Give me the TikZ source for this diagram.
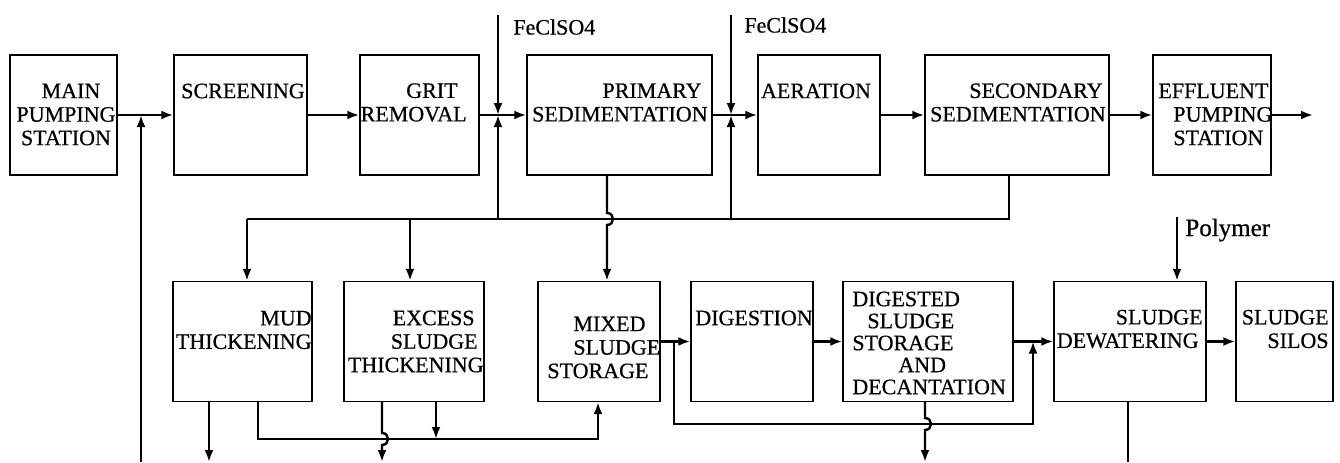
\documentclass[tikz,border=0pt]{standalone}
\usepackage{fontspec}
\setmainfont{Liberation Serif}[FakeBold=0.6]
\newfontfamily\plantfont{Liberation Serif}[FakeBold=0.6]
\usetikzlibrary{arrows.meta}

\begin{document}
\begin{tikzpicture}[x=0.5pt,y=-0.5pt,>={Latex[length=6pt,width=4.5pt]},
        box/.style={draw,line width=0.7pt,minimum height=60pt,inner sep=0pt},
        lbl/.style={inner sep=0pt,font=\plantfont\fontsize{11}{11.75}\selectfont},
        flow/.style={line width=1.2pt}]
        \useasboundingbox (0,0) rectangle (1340,462);
        % water line
        \node[box, minimum width=53.5pt]  (mps)  at (63.5,115)   {};
        \node[box, minimum width=66.5pt]  (scr)  at (240.5,115)  {};
        \node[box, minimum width=59.5pt]  (grit) at (419.5,115)  {};
        \node[box, minimum width=92.5pt]  (pri)  at (619.5,115)  {};
        \node[box, minimum width=61pt]    (aer)  at (819,115)    {};
        \node[box, minimum width=92pt]    (sec)  at (1017,115)   {};
        \node[box, minimum width=59pt]    (eff)  at (1212,115)   {};

        % sludge line
        \node[box, minimum width=69.5pt]  (mud)  at (242.5,341.5) {};
        \node[box, minimum width=70pt]    (exc)  at (414,341.5)   {};
        \node[box, minimum width=61pt]    (mix)  at (599,341.5)   {};
        \node[box, minimum width=61pt]    (dig)  at (752,341.5)   {};
        \node[box, minimum width=85pt]    (dss)  at (928,341.5)   {};
        \node[box, minimum width=76pt]    (dew)  at (1130,341.5)  {};
        \node[box, minimum width=48.5pt]  (sil)  at (1284.5,341.5) {};

        % labels
        \node[lbl, align=center] (t-mps) at (66,114.5) {\hspace*{5pt}MAIN\\PUMPING\\STATION};
        \node[lbl] (t-scr) at (243,91) {SCREENING};
        \node[lbl, align=right, anchor=east] (t-grit) at (467,102.5) {GRIT\kern4.5pt\\REMOVAL};
        \node[lbl, align=right, anchor=east] (t-pri) at (708,102.5) {PRIMARY\kern3pt\\SEDIMENTATION};
        \node[lbl] (t-aer) at (816,91) {AERATION};
        \node[lbl, align=right, anchor=east] (t-sec) at (1106,102.5) {SECONDARY\kern1.5pt\\SEDIMENTATION};
        \node[lbl, align=left, anchor=west] (t-eff) at (1158,114.5) {EFFLUENT\\\hspace*{7.5pt}PUMPING\\\hspace*{7.5pt}STATION};
        \node[lbl, align=right, anchor=east] (t-mud) at (312,330) {MUD\\THICKENING};
        \node[lbl, align=right, anchor=east] (t-exc) at (484,341.5) {EXCESS\kern4.5pt\\SLUDGE\kern3pt\\THICKENING};
        \node[lbl, align=left, anchor=west] (t-mix) at (547,347.5) {\hspace*{13pt}MIXED\\\hspace*{13pt}SLUDGE\\STORAGE};
        \node[lbl] (t-dig) at (754,318) {DIGESTION};
        \node[lbl, align=left, anchor=west, font=\plantfont\fontsize{11}{11}\selectfont] (t-dss) at (852,343)
             {DIGESTED\\\hspace*{7.5pt}SLUDGE\\STORAGE\\\hspace*{23pt}AND\\DECANTATION};
        \node[lbl, align=right, anchor=east] (t-dew) at (1203,329) {SLUDGE\\DEWATERING\kern2pt};
        \node[lbl, align=right, anchor=east] (t-sil) at (1329,329) {SLUDGE\\SILOS};
        \node[lbl, anchor=west] (t-fe1) at (513,27) {FeClSO4};
        \node[lbl, anchor=west] (t-fe2) at (744,25) {FeClSO4};
        \node[lbl, anchor=base west, font=\plantfont\fontsize{12.5}{12.5}\selectfont] (t-pol) at (1185,236) {Polymer};

        % junctions and free ends
        \coordinate (out) at (1313,115);
        \coordinate (ret) at (141,462);
        \coordinate (fe1) at (498,15);
        \coordinate (fe2) at (731,15);
        \coordinate (jm)  at (247,219);
        \coordinate (je)  at (410,219);
        \coordinate (jf1) at (498,219);
        \coordinate (jf2) at (731,219);
        \coordinate (js)  at (1009,219);
        \coordinate (hp)  at (607,219);
        \coordinate (m1)  at (258,439);
        \coordinate (m2)  at (598,439);
        \coordinate (h1)  at (382,439);
        \coordinate (x2)  at (436,439);
        \coordinate (by1) at (674,424);
        \coordinate (by2) at (1033,424);
        \coordinate (h3)  at (925,424);
        \coordinate (o1)  at (209,462);
        \coordinate (o2)  at (382,462);
        \coordinate (o3)  at (925,462);
        \coordinate (o4)  at (1128,462);
        \coordinate (pol) at (1177,217);

        \path[flow,->]
                 (mps) edge (scr)
                 (scr) edge (grit)
                 (grit) edge (pri)
                 (pri) edge (aer)
                 (aer) edge (sec)
                 (sec) edge (eff)
                 (eff) edge (out)

                 (mix) edge (dig)
                 (dig) edge (dss)
                 (dss) edge (dew)
                 (dew) edge (sil);

        % dosing and returns
        \draw[flow,->] (ret) -- (ret |- mps.east);
        \draw[flow,->] (fe1) -- (fe1 |- grit.east);
        \draw[flow,->] (jf1) -- (jf1 |- grit.east);
        \draw[flow,->] (fe2) -- (fe2 |- pri.east);
        \draw[flow,->] (jf2) -- (jf2 |- pri.east);
        \draw[flow] (sec.south -| js) -- (js) -- (jm);
        \draw[flow,->] (jm) -- (jm |- mud.north);
        \draw[flow,->] (je) -- (je |- exc.north);
        \draw[flow,->] (pri.south -| hp) -- ([yshift=3pt]hp) .. controls +(8,0) and +(8,0) .. ([yshift=-3pt]hp) -- (hp |- mix.north);

        % sludge outlets
        \draw[flow,->] (mud.south -| o1) -- (o1);
        \draw[flow,->] (mud.south -| m1) -- (m1) -- (m2) -- (m2 |- mix.south);
        \draw[flow,->] (exc.south -| h1) -- ([yshift=3pt]h1) .. controls +(8,0) and +(8,0) .. ([yshift=-3pt]h1) -- (o2);
        \draw[flow,->] (exc.south -| x2) -- (x2);
        \draw[flow,->] (by1 |- mix.east) -- (by1) -- (by2) -- (by2 |- dss.east);
        \draw[flow,->] (dss.south -| h3) -- ([yshift=3pt]h3) .. controls +(8,0) and +(8,0) .. ([yshift=-3pt]h3) -- (o3);
        \draw[flow] (dew.south -| o4) -- (o4);
        \draw[flow,->] (pol) -- (pol |- dew.north);
\end{tikzpicture}
\end{document}
